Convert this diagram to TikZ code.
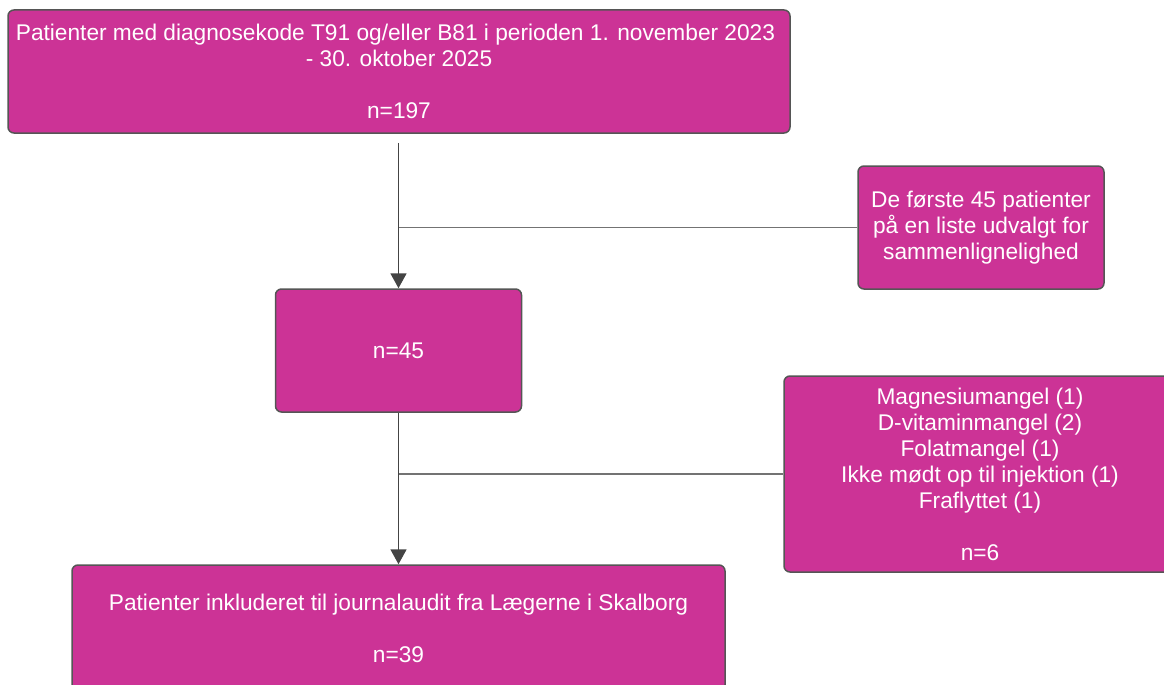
\documentclass[tikz,border=0pt]{standalone}
\usepackage{fontspec}
\setmainfont{Liberation Sans}
\usetikzlibrary{arrows.meta}
\definecolor{boxfill}{RGB}{204,51,150}
\definecolor{boxline}{RGB}{85,85,85}
\definecolor{arrcol}{RGB}{68,68,68}
\definecolor{brcol}{RGB}{115,115,115}
\tikzset{
  fbox/.style={draw=boxline, line width=1.5pt, fill=boxfill, rounded corners=6pt,
    text=white, align=center, inner sep=0pt,
    font=\fontsize{22.7}{26}\selectfont},
  arr/.style={draw=arrcol, line width=1.8pt, -{Triangle[width=16pt,length=15pt]}},
  branch/.style={draw=brcol, line width=1.8pt}
}
\begin{document}
\begin{tikzpicture}[x=1pt,y=-1pt]
\useasboundingbox (0,0) rectangle (1164,685);
\clip (0,0) rectangle (1164,685);
\node[fbox, minimum width=782pt, minimum height=123pt] (top) at (399,71.5)
  {Patienter med diagnosekode T91 og/eller B81 i perioden 1. november 2023\kern7pt\\- 30. oktober 2025\\[26pt]n=197};
\node[fbox, minimum width=246pt, minimum height=123pt] (r1) at (981,227.5)
  {De første 45 patienter\\på en liste udvalgt for\\sammenlignelighed};
\node[fbox, minimum width=246pt, minimum height=123pt] (n45) at (398.5,350.5)
  {n=45};
\node[fbox, minimum width=392pt, minimum height=196pt] (r2) at (980,474)
  {Magnesiumangel (1)\\D-vitaminmangel (2)\\Folatmangel (1)\\Ikke mødt op til injektion (1)\\Fraflyttet (1)\\[26pt]n=6};
\node[fbox, minimum width=653pt, minimum height=126pt] (bot) at (398.5,628)
  {Patienter inkluderet til journalaudit fra Lægerne i Skalborg\\[26pt]n=39};
\coordinate (j1) at (n45.north |- r1.west);
\coordinate (j2) at (n45.south |- r2.west);
\draw[branch] (j1) -- (r1.west);
\draw[branch] (j2) -- (r2.west);
\draw[arr, shorten <=9pt] (top.south -| n45.north) -- (n45.north);
\draw[arr] (n45.south) -- (bot.north);
\end{tikzpicture}
\end{document}
